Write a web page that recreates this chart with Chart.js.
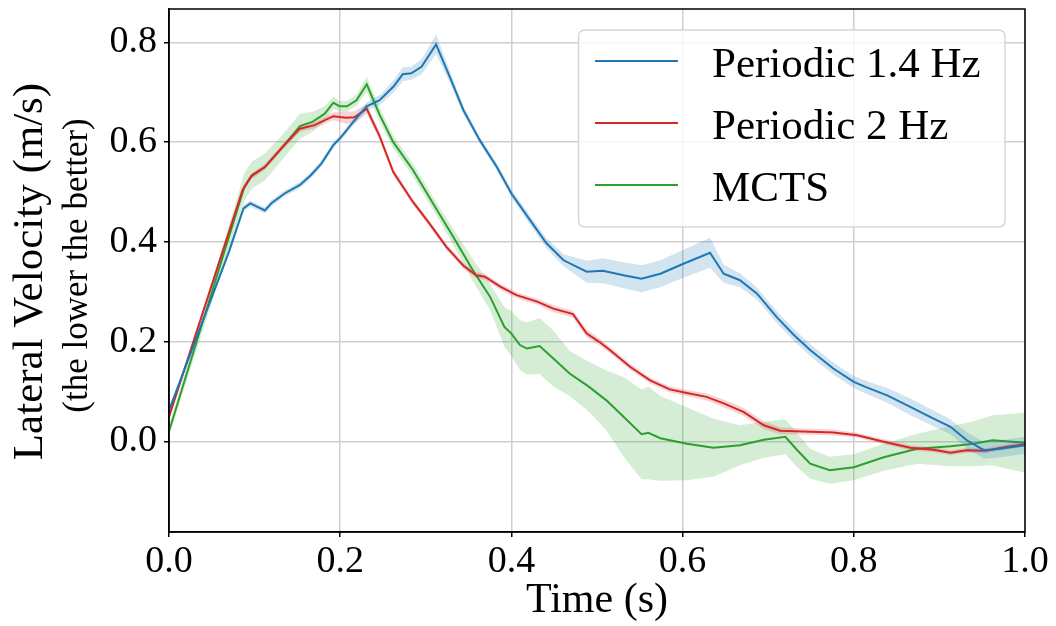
<!DOCTYPE html>
<html>
<head>
<meta charset="utf-8">
<script src="https://cdn.jsdelivr.net/npm/chart.js@4.4.1/dist/chart.umd.min.js"></script>
<style>
  html, body { margin: 0; padding: 0; background: #fff; }
</style>
</head>
<body>
<canvas id="chart" width="1056" height="626"></canvas>
<script>
const SERIES_NAMES  = ['Periodic 1.4 Hz', 'Periodic 2 Hz', 'MCTS'];
const SERIES_COLORS = ['#1f77b4', '#d62728', '#2ca02c'];
const BAND_COLORS   = ['rgba(31,119,180,0.2)', 'rgba(214,39,40,0.2)', 'rgba(44,160,44,0.2)'];

const X_TICKS = [0.0, 0.2, 0.4, 0.6, 0.8, 1.0];
const Y_TICKS = [0.0, 0.2, 0.4, 0.6, 0.8];
const Y_MIN = -0.182;
const Y_MAX = 0.867;

const X_TITLE  = 'Time (s)';
const Y_TITLE  = 'Lateral Velocity (m/s)';
const Y_TITLE2 = '(the lower the better)';

// Periodic 1.4 Hz
const t14  = [0.000,0.070,0.087,0.095,0.112,0.120,0.135,0.153,0.166,0.178,0.192,0.201,0.217,0.231,0.246,0.262,0.273,0.283,0.295,0.312,0.328,0.344,0.363,0.383,0.400,0.422,0.441,0.461,0.488,0.507,0.531,0.552,0.574,0.601,0.632,0.648,0.667,0.687,0.710,0.730,0.749,0.776,0.800,0.815,0.839,0.866,0.889,0.913,0.932,0.952,0.971,1.000];
const v14  = [0.062,0.380,0.467,0.477,0.463,0.478,0.497,0.514,0.534,0.557,0.594,0.610,0.644,0.672,0.684,0.711,0.736,0.738,0.751,0.796,0.731,0.664,0.604,0.550,0.497,0.443,0.397,0.363,0.340,0.342,0.333,0.326,0.336,0.356,0.378,0.336,0.323,0.296,0.249,0.213,0.183,0.146,0.119,0.108,0.092,0.069,0.049,0.029,0.002,-0.018,-0.015,-0.008];
const sd14 = [0.005,0.006,0.006,0.006,0.006,0.006,0.006,0.006,0.006,0.006,0.006,0.006,0.007,0.008,0.010,0.012,0.014,0.013,0.015,0.020,0.012,0.008,0.007,0.007,0.008,0.009,0.010,0.012,0.022,0.025,0.026,0.027,0.027,0.028,0.030,0.018,0.014,0.012,0.012,0.012,0.012,0.012,0.012,0.013,0.015,0.017,0.016,0.015,0.016,0.017,0.017,0.017];

// Periodic 2 Hz
const t2  = [0.000,0.086,0.096,0.112,0.131,0.153,0.170,0.192,0.207,0.217,0.231,0.246,0.262,0.285,0.305,0.324,0.344,0.359,0.369,0.387,0.406,0.430,0.449,0.472,0.488,0.503,0.515,0.539,0.562,0.585,0.605,0.628,0.648,0.671,0.695,0.714,0.749,0.776,0.804,0.835,0.866,0.893,0.913,0.932,0.954,0.979,1.000];
const v2  = [0.049,0.504,0.531,0.550,0.587,0.627,0.634,0.652,0.649,0.650,0.667,0.612,0.540,0.480,0.435,0.390,0.352,0.333,0.330,0.310,0.293,0.280,0.266,0.255,0.216,0.199,0.183,0.149,0.122,0.104,0.097,0.089,0.076,0.059,0.032,0.021,0.019,0.0175,0.012,-0.001,-0.013,-0.017,-0.023,-0.018,-0.019,-0.011,-0.006];
const sd2 = [0.004,0.006,0.006,0.006,0.006,0.006,0.006,0.008,0.012,0.012,0.010,0.008,0.007,0.006,0.006,0.006,0.006,0.006,0.006,0.006,0.006,0.006,0.007,0.007,0.008,0.007,0.006,0.006,0.006,0.006,0.006,0.007,0.008,0.008,0.008,0.007,0.006,0.006,0.005,0.005,0.005,0.005,0.005,0.005,0.005,0.005,0.005];

// MCTS
const tM  = [0.000,0.088,0.097,0.112,0.131,0.153,0.168,0.182,0.192,0.199,0.208,0.219,0.231,0.246,0.262,0.285,0.312,0.332,0.355,0.375,0.392,0.400,0.410,0.418,0.433,0.449,0.468,0.490,0.511,0.531,0.552,0.560,0.574,0.605,0.636,0.667,0.695,0.720,0.734,0.749,0.772,0.800,0.835,0.874,0.913,0.940,0.962,1.000];
const vM  = [0.020,0.510,0.534,0.550,0.587,0.632,0.641,0.657,0.679,0.672,0.672,0.684,0.716,0.655,0.600,0.544,0.467,0.410,0.343,0.290,0.229,0.216,0.193,0.186,0.191,0.166,0.136,0.110,0.082,0.049,0.014,0.017,0.006,-0.005,-0.013,-0.008,0.003,0.009,-0.018,-0.045,-0.058,-0.052,-0.032,-0.015,-0.010,-0.005,0.002,-0.003];
const sdM = [0.010,0.028,0.027,0.027,0.025,0.025,0.020,0.015,0.012,0.011,0.011,0.011,0.015,0.014,0.013,0.013,0.013,0.016,0.022,0.026,0.040,0.045,0.050,0.052,0.056,0.056,0.045,0.050,0.060,0.080,0.090,0.093,0.085,0.073,0.058,0.040,0.036,0.035,0.034,0.030,0.027,0.026,0.027,0.030,0.040,0.045,0.050,0.060];

const SERIES = [
  { t: t14, v: v14, sd: sd14 },
  { t: t2,  v: v2,  sd: sd2  },
  { t: tM,  v: vM,  sd: sdM  },
];

const FONT = "'Liberation Serif', 'Times New Roman', serif";

function pts(t, vals) {
  return t.map((x, i) => ({ x: x, y: vals[i] }));
}

const datasets = [];
SERIES.forEach((s, k) => {
  datasets.push({
    label: '_lo' + k,
    data: pts(s.t, s.v.map((y, i) => y - s.sd[i])),
    borderWidth: 0,
    pointRadius: 0,
    fill: false,
  });
  datasets.push({
    label: '_hi' + k,
    data: pts(s.t, s.v.map((y, i) => y + s.sd[i])),
    borderWidth: 0,
    pointRadius: 0,
    backgroundColor: BAND_COLORS[k],
    fill: '-1',
  });
  datasets.push({
    label: SERIES_NAMES[k],
    data: pts(s.t, s.v),
    borderColor: SERIES_COLORS[k],
    borderWidth: 2,
    pointRadius: 0,
    tension: 0,
    fill: false,
  });
});

// spines, y title and the legend box drawn on top
const framePlugin = {
  id: 'frame',
  afterDraw(chart) {
    const { ctx, chartArea: a } = chart;
    ctx.save();
    ctx.strokeStyle = '#000';
    ctx.lineWidth = 1.5;
    ctx.strokeRect(a.left, a.top, a.right - a.left, a.bottom - a.top);

    // y axis title, two lines
    const midY = (a.top + a.bottom) / 2;
    ctx.fillStyle = '#000';
    ctx.textAlign = 'center';
    ctx.textBaseline = 'middle';
    ctx.save();
    ctx.translate(31, midY + 1);
    ctx.rotate(-Math.PI / 2);
    ctx.font = '43px ' + FONT;
    ctx.fillText(Y_TITLE, 0, 0);
    ctx.restore();
    ctx.save();
    ctx.translate(78, midY - 5);
    ctx.rotate(-Math.PI / 2);
    ctx.font = '35px ' + FONT;
    ctx.fillText(Y_TITLE2, 0, 0);
    ctx.restore();

    // legend
    const bx = 578.5, by = 30, bw = 426.5, bh = 197, r = 6;
    ctx.beginPath();
    ctx.moveTo(bx + r, by);
    ctx.arcTo(bx + bw, by, bx + bw, by + bh, r);
    ctx.arcTo(bx + bw, by + bh, bx, by + bh, r);
    ctx.arcTo(bx, by + bh, bx, by, r);
    ctx.arcTo(bx, by, bx + bw, by, r);
    ctx.closePath();
    ctx.fillStyle = 'rgba(255,255,255,0.8)';
    ctx.fill();
    ctx.strokeStyle = '#d6d6d6';
    ctx.lineWidth = 1.5;
    ctx.stroke();

    ctx.font = '43px ' + FONT;
    ctx.textAlign = 'left';
    ctx.textBaseline = 'alphabetic';
    SERIES_NAMES.forEach((name, k) => {
      const y = 61 + k * 62;
      ctx.beginPath();
      ctx.moveTo(595, y);
      ctx.lineTo(678, y);
      ctx.strokeStyle = SERIES_COLORS[k];
      ctx.lineWidth = 2;
      ctx.stroke();
      ctx.fillStyle = '#000';
      ctx.fillText(name, 712, y + 15.5);
    });
    ctx.restore();
  }
};

const chart = new Chart(document.getElementById('chart').getContext('2d'), {
  type: 'line',
  data: { datasets },
  options: {
    responsive: false,
    animation: false,
    layout: { padding: { left: 0, right: 31, top: 9, bottom: 0 } },
    plugins: {
      legend: { display: false },
      tooltip: { enabled: false },
    },
    scales: {
      x: {
        type: 'linear',
        min: 0,
        max: 1,
        afterBuildTicks: s => { s.ticks = X_TICKS.map(v => ({ value: v })); },
        afterFit: s => { s.height = 94; s.paddingLeft = 0; s.paddingRight = 0; },
        ticks: {
          color: '#000',
          font: { family: FONT, size: 38 },
          padding: 2,
          maxRotation: 0,
          callback: v => v.toFixed(1),
        },
        grid: { color: '#cfcfcf', lineWidth: 1.5, tickColor: '#000', tickLength: 5, tickWidth: 1.5 },
        border: { color: '#000', width: 1.5 },
        title: {
          display: true,
          text: X_TITLE,
          color: '#000',
          font: { family: FONT, size: 42 },
          padding: { top: 0, bottom: 0 },
        },
      },
      y: {
        type: 'linear',
        min: Y_MIN,
        max: Y_MAX,
        afterBuildTicks: s => { s.ticks = Y_TICKS.map(v => ({ value: v })); },
        afterFit: s => { s.width = 169; s.paddingTop = 0; s.paddingBottom = 0; },
        ticks: {
          color: '#000',
          font: { family: FONT, size: 38 },
          padding: 7,
          callback: v => v.toFixed(1),
        },
        grid: { color: '#cfcfcf', lineWidth: 1.5, tickColor: '#000', tickLength: 5, tickWidth: 1.5 },
        border: { color: '#000', width: 1.5 },
      },
    },
  },
  plugins: [framePlugin],
});
</script>
</body>
</html>
